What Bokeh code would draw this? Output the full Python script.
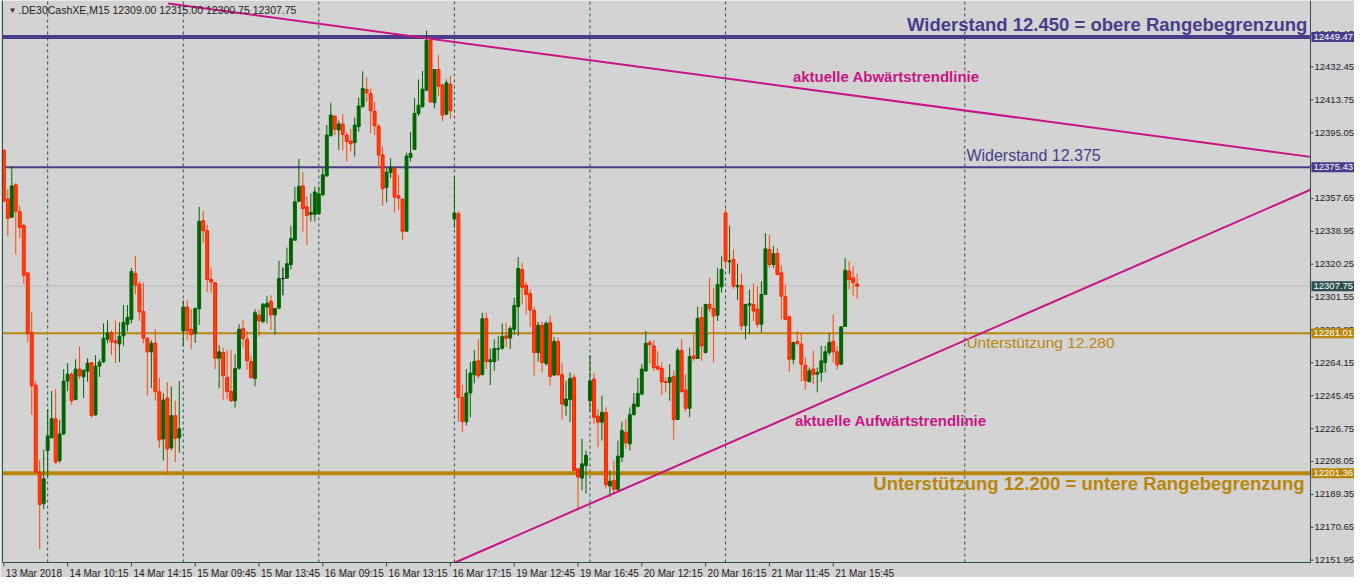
from bokeh.plotting import figure
from bokeh.models import Range1d, Label, ColumnDataSource
from bokeh.core.properties import value
from bokeh.embed import file_html
from bokeh.resources import INLINE

# ---------------- data (DE30 CashXE, M15) ----------------
opens = [12385.2, 12357.3, 12346.9, 12365.4, 12350.1, 12342.2, 12315.3, 12281.3, 12251.5, 12202.0,
         12184.1, 12214.3, 12221.5, 12232.3, 12208.6, 12223.7, 12253.8, 12257.7, 12243.2, 12260.6,
         12256.2, 12259.4, 12264.3, 12234.5, 12262.3, 12264.7, 12277.6, 12281.2, 12276.6, 12274.9,
         12279.5, 12286.1, 12288.9, 12315.0, 12308.7, 12293.3, 12278.2, 12270.4, 12275.3, 12247.7,
         12220.9, 12244.1, 12215.8, 12234.1, 12221.5, 12282.3, 12295.9, 12283.2, 12280.8, 12294.9,
         12345.0, 12339.3, 12311.6, 12309.7, 12266.8, 12270.0, 12255.9, 12247.9, 12242.6, 12261.1,
         12283.6, 12277.6, 12264.9, 12255.3, 12291.2, 12287.6, 12295.9, 12299.1, 12291.4, 12295.3,
         12312.1, 12312.3, 12320.1, 12333.9, 12356.0, 12364.8, 12352.8, 12348.6, 12348.6, 12349.0,
         12359.8, 12370.5, 12393.4, 12404.5, 12396.6, 12400.0, 12393.7, 12390.3, 12389.4, 12398.5,
         12409.8, 12419.6, 12417.3, 12407.2, 12398.8, 12382.4, 12363.9, 12372.4, 12374.9, 12359.2,
         12357.3, 12339.0, 12381.1, 12385.6, 12406.0, 12409.8, 12419.2, 12447.6, 12412.1, 12431.0,
         12422.1, 12405.6, 12422.6, 12346.0, 12349.0, 12244.5, 12230.7, 12247.0, 12257.4, 12265.3,
         12257.4, 12289.3, 12264.7, 12264.9, 12271.9, 12272.5, 12279.5, 12278.3, 12283.2, 12296.1,
         12317.2, 12308.2, 12303.5, 12294.0, 12270.0, 12285.5, 12263.8, 12287.0, 12257.2, 12276.3,
         12257.4, 12239.8, 12243.2, 12255.9, 12203.9, 12198.6, 12205.8, 12242.6, 12254.9, 12233.8,
         12230.4, 12236.0, 12194.1, 12197.3, 12192.2, 12210.5, 12224.7, 12218.1, 12234.7, 12239.4,
         12246.4, 12259.6, 12275.7, 12273.8, 12262.1, 12261.0, 12253.4, 12253.0, 12256.4, 12231.9,
         12271.3, 12248.7, 12238.3, 12268.1, 12266.6, 12289.9, 12270.0, 12297.4, 12295.0, 12291.2,
         12307.4, 12349.4, 12321.6, 12322.9, 12307.4, 12308.2, 12285.5, 12297.0, 12297.4, 12294.6,
         12286.1, 12303.1, 12328.6, 12320.1, 12326.3, 12315.3, 12301.8, 12290.4, 12266.2, 12276.3,
         12274.8, 12262.8, 12253.4, 12260.6, 12257.7, 12258.7, 12264.3, 12270.0, 12276.3, 12270.4,
         12263.4, 12284.8, 12316.3, 12312.5, 12309.0]
highs = [12385.2, 12363.0, 12376.2, 12366.3, 12353.5, 12343.3, 12315.3, 12292.9, 12253.8, 12209.0,
         12214.7, 12237.9, 12248.1, 12249.2, 12231.7, 12260.6, 12264.0, 12258.7, 12266.2, 12273.6,
         12260.0, 12266.8, 12264.3, 12268.5, 12266.2, 12286.6, 12288.3, 12282.7, 12288.3, 12287.2,
         12297.0, 12297.0, 12318.0, 12324.8, 12310.6, 12309.7, 12278.2, 12277.0, 12283.2, 12255.5,
         12247.0, 12253.2, 12250.6, 12242.6, 12253.8, 12299.7, 12299.7, 12294.6, 12295.5, 12352.9,
         12350.7, 12342.7, 12318.4, 12309.7, 12274.2, 12272.9, 12271.5, 12271.5, 12269.1, 12286.1,
         12288.3, 12282.3, 12268.1, 12294.6, 12294.6, 12298.3, 12302.1, 12302.5, 12295.1, 12322.2,
         12318.4, 12329.7, 12342.2, 12364.3, 12380.1, 12372.8, 12358.8, 12360.5, 12364.3, 12364.5,
         12374.8, 12399.4, 12412.1, 12404.5, 12401.9, 12405.6, 12395.1, 12397.3, 12403.6, 12415.1,
         12430.0, 12426.8, 12420.2, 12412.6, 12400.0, 12387.1, 12374.9, 12380.5, 12374.9, 12371.1,
         12357.3, 12383.7, 12395.4, 12414.7, 12425.3, 12430.2, 12453.2, 12449.8, 12431.0, 12439.1,
         12423.0, 12425.3, 12427.2, 12370.1, 12350.3, 12251.5, 12260.6, 12264.7, 12271.3, 12277.6,
         12292.7, 12292.7, 12272.3, 12277.6, 12279.5, 12286.6, 12287.0, 12285.1, 12301.2, 12324.4,
         12321.0, 12310.2, 12305.9, 12296.1, 12287.4, 12287.4, 12288.0, 12291.2, 12278.9, 12278.5,
         12264.3, 12254.0, 12258.7, 12257.7, 12203.9, 12220.9, 12214.3, 12268.5, 12258.3, 12237.9,
         12245.5, 12238.9, 12203.0, 12208.6, 12219.9, 12230.7, 12232.2, 12238.9, 12247.0, 12255.5,
         12263.4, 12282.3, 12277.2, 12277.2, 12271.0, 12264.3, 12255.9, 12263.4, 12260.0, 12272.8,
         12277.6, 12257.7, 12272.9, 12280.4, 12296.1, 12296.1, 12297.4, 12312.5, 12306.8, 12318.2,
         12324.8, 12351.2, 12342.2, 12328.6, 12320.6, 12315.0, 12297.4, 12305.9, 12309.3, 12307.8,
         12310.6, 12338.0, 12337.1, 12330.5, 12329.5, 12319.5, 12308.7, 12290.4, 12276.1, 12282.3,
         12281.4, 12267.2, 12261.5, 12271.0, 12261.5, 12273.8, 12273.8, 12281.0, 12291.8, 12273.8,
         12285.1, 12323.8, 12321.9, 12319.1, 12315.0]
lows = [12355.4, 12336.1, 12346.9, 12325.7, 12334.8, 12309.3, 12276.1, 12234.5, 12202.0, 12158.2,
        12180.9, 12199.2, 12221.5, 12206.7, 12207.3, 12223.2, 12248.1, 12240.4, 12243.2, 12254.9,
        12244.1, 12253.4, 12233.0, 12234.1, 12256.2, 12264.0, 12275.3, 12268.5, 12264.0, 12264.5,
        12273.8, 12282.1, 12286.6, 12303.1, 12288.0, 12275.3, 12245.5, 12250.0, 12242.6, 12215.8,
        12208.6, 12201.1, 12214.3, 12207.7, 12213.0, 12273.8, 12277.0, 12271.9, 12275.5, 12285.7,
        12332.4, 12304.4, 12304.0, 12260.6, 12249.6, 12243.2, 12243.6, 12241.7, 12238.7, 12260.2,
        12272.9, 12260.2, 12255.3, 12250.8, 12279.1, 12286.6, 12286.6, 12282.9, 12280.2, 12294.6,
        12302.5, 12312.3, 12317.2, 12333.9, 12356.0, 12338.8, 12331.0, 12344.6, 12344.6, 12348.4,
        12358.8, 12370.1, 12392.8, 12393.6, 12385.2, 12384.9, 12378.6, 12384.3, 12381.5, 12395.6,
        12409.4, 12412.6, 12394.7, 12393.7, 12374.9, 12353.5, 12355.4, 12369.2, 12349.7, 12351.2,
        12334.2, 12339.0, 12378.6, 12385.2, 12404.5, 12409.4, 12419.2, 12412.1, 12408.9, 12415.8,
        12401.7, 12405.1, 12402.8, 12340.9, 12230.7, 12224.7, 12228.5, 12233.2, 12252.5, 12255.3,
        12257.4, 12260.6, 12251.5, 12259.6, 12265.3, 12271.5, 12273.2, 12271.9, 12280.0, 12279.5,
        12297.4, 12291.7, 12284.6, 12256.8, 12264.7, 12258.7, 12262.5, 12251.1, 12256.8, 12256.8,
        12231.9, 12234.1, 12230.4, 12200.5, 12181.2, 12191.6, 12189.7, 12236.4, 12229.4, 12216.2,
        12220.0, 12192.6, 12187.9, 12189.7, 12190.7, 12207.7, 12215.2, 12214.3, 12234.1, 12238.9,
        12245.5, 12259.1, 12263.8, 12259.6, 12259.6, 12245.8, 12247.3, 12242.6, 12220.5, 12231.9,
        12247.7, 12236.4, 12233.2, 12265.3, 12266.6, 12265.3, 12269.6, 12293.0, 12264.4, 12288.0,
        12304.0, 12318.0, 12314.8, 12306.3, 12299.9, 12282.3, 12277.6, 12280.4, 12288.0, 12284.2,
        12281.4, 12303.1, 12318.2, 12318.2, 12313.8, 12288.9, 12288.5, 12259.1, 12263.4, 12274.3,
        12253.4, 12248.9, 12253.4, 12252.1, 12247.4, 12253.4, 12258.7, 12268.5, 12264.3, 12260.2,
        12262.8, 12284.8, 12305.9, 12302.1, 12300.75]
closes = [12356.3, 12346.3, 12364.8, 12350.3, 12341.2, 12314.0, 12280.8, 12251.1, 12202.0, 12183.7,
          12198.2, 12222.6, 12232.3, 12207.7, 12223.7, 12253.8, 12257.7, 12242.6, 12260.6, 12256.8,
          12260.0, 12264.0, 12234.1, 12262.3, 12264.5, 12278.2, 12281.2, 12276.1, 12275.5, 12279.3,
          12287.2, 12290.0, 12316.1, 12308.4, 12293.1, 12278.2, 12270.4, 12275.3, 12247.7, 12220.3,
          12243.0, 12215.2, 12234.1, 12221.3, 12226.6, 12295.9, 12282.3, 12280.2, 12295.1, 12344.6,
          12339.3, 12311.6, 12310.1, 12266.8, 12270.4, 12256.8, 12247.9, 12242.6, 12260.9, 12283.2,
          12278.0, 12265.3, 12255.7, 12292.7, 12288.0, 12297.4, 12298.0, 12291.4, 12295.1, 12312.1,
          12312.1, 12320.5, 12334.8, 12355.8, 12364.5, 12352.0, 12348.0, 12349.7, 12361.3, 12360.3,
          12371.1, 12393.7, 12405.1, 12397.0, 12400.0, 12394.1, 12390.0, 12388.8, 12399.4, 12410.2,
          12420.2, 12417.7, 12407.5, 12399.0, 12382.4, 12363.3, 12372.6, 12375.4, 12358.4, 12357.9,
          12339.0, 12381.8, 12383.3, 12406.0, 12410.7, 12419.8, 12447.6, 12412.6, 12431.0, 12421.5,
          12405.1, 12423.4, 12407.5, 12349.4, 12244.5, 12230.7, 12247.0, 12258.3, 12264.9, 12256.8,
          12289.3, 12264.9, 12265.9, 12272.3, 12272.3, 12279.1, 12278.1, 12283.6, 12296.8, 12317.8,
          12307.2, 12303.1, 12294.2, 12270.0, 12285.5, 12264.3, 12286.6, 12256.4, 12276.3, 12257.4,
          12240.7, 12243.6, 12255.3, 12203.0, 12199.2, 12206.7, 12211.5, 12253.9, 12233.2, 12230.4,
          12236.0, 12194.8, 12196.9, 12192.2, 12211.1, 12225.6, 12218.6, 12234.7, 12240.7, 12246.8,
          12260.6, 12275.3, 12274.4, 12261.5, 12260.6, 12253.4, 12253.0, 12255.9, 12231.9, 12271.3,
          12247.7, 12238.3, 12267.8, 12266.6, 12289.5, 12273.8, 12297.4, 12295.0, 12290.8, 12308.7,
          12317.2, 12322.0, 12322.2, 12307.8, 12308.2, 12285.1, 12297.4, 12297.8, 12293.6, 12286.1,
          12303.1, 12329.0, 12320.1, 12326.3, 12314.4, 12302.1, 12288.9, 12266.2, 12275.7, 12275.1,
          12263.4, 12254.0, 12259.6, 12257.4, 12258.7, 12265.3, 12270.4, 12275.7, 12270.4, 12263.0,
          12284.6, 12316.8, 12311.6, 12309.7, 12307.75]

time_ticks = [0, 16, 32, 48, 64, 80, 96, 112, 128, 144, 160, 176, 192, 208]
time_labels = ["13 Mar 2018", "14 Mar 10:15", "14 Mar 14:15", "15 Mar 09:45", "15 Mar 13:45",
               "16 Mar 09:15", "16 Mar 13:15", "16 Mar 17:15", "19 Mar 12:45", "19 Mar 16:45",
               "20 Mar 12:15", "20 Mar 16:15", "21 Mar 11:45", "21 Mar 15:45"]
day_separators = [11, 45, 79, 113, 147, 181, 241]

price_ticks = [12151.95, 12170.65, 12189.35, 12208.05, 12226.75, 12245.45, 12264.15, 12282.85,
               12301.55, 12320.25, 12338.95, 12357.65, 12376.35, 12395.05, 12413.75, 12432.45, 12451.15]

resistance_main = 12449.47
resistance_2 = 12375.43
support_2 = 12281.01
support_main = 12201.36
last_price = 12307.75

down_trend_x = [41.2, 327.7]
down_trend_y = [12468.5, 12381.3]
up_trend_x = [113.2, 327.7]
up_trend_y = [12150.6, 12362.6]

header = ".DE30CashXE,M15  12309.00 12315.00 12300.75 12307.75"

# ---------------- layout ----------------
W, H = 1354, 577                 # canvas
CL, CR, CT, CB = 2, 1310, 2, 562 # chart area in canvas pixels (price axis at CR, time axis at CB)
X0, XA = -0.33, 327.7            # chart x extent (bar index); XA = price axis position
Y0, Y1 = 12150.6, 12469.1        # chart price extent (bottom, top)
DX = (XA - X0) / (CR - CL)
DY = (Y1 - Y0) / (CB - CT)
XR0, XR1 = X0 - CL * DX, XA + (W - CR) * DX
YR0, YR1 = Y0 - (H - CB) * DY, Y1 + CT * DY

FONT = "Liberation Sans"
AXIS_COL = "#2F4F4F"
BG = "#D3D3D3"

p = figure(width=W, height=H, x_range=Range1d(XR0, XR1), y_range=Range1d(YR0, YR1),
           output_backend="svg", toolbar_location=None, title=None,
           x_axis_location=None, y_axis_location=None,
           min_border_left=0, min_border_top=0, min_border_right=0, min_border_bottom=0)
p.background_fill_color = BG
p.border_fill_color = BG
p.outline_line_color = None
p.grid.visible = False

# day separators (dashed)
p.segment(x0=day_separators, y0=[Y0] * len(day_separators), x1=day_separators,
          y1=[YR1] * len(day_separators), line_color=AXIS_COL, line_dash="3 3", line_width=1)

# horizontal levels
levels = [last_price, resistance_main, resistance_2, support_2, support_main]
level_cols = ["#BEBEBE", "#483D8B", "#483D8B", "#B8860B", "#B8860B"]
level_w = [1, 4, 2, 2, 4]
p.segment(x0=[X0] * 5, y0=levels, x1=[XA] * 5, y1=levels, line_color=level_cols, line_width=level_w)

# candles
n = len(opens)
body_fill, body_line, wick_col, tops, bottoms = [], [], [], [], []
for o, c in zip(opens, closes):
    if c > o:
        body_fill.append("#006400"); body_line.append("#006400"); wick_col.append("#006400")
    elif c < o:
        body_fill.append("#FF4500"); body_line.append("#FF1A00"); wick_col.append("#FF4500")
    else:
        body_fill.append("#000000"); body_line.append("#000000"); wick_col.append("#000000")
    tops.append(max(o, c)); bottoms.append(min(o, c))

src = ColumnDataSource(dict(x=list(range(n)), h=highs, l=lows, top=tops, bottom=bottoms,
                            fill=body_fill, line=body_line, wick=wick_col))
p.segment(x0="x", y0="l", x1="x", y1="h", line_color="wick", line_width=1, source=src)
p.vbar(x="x", width=0.72, top="top", bottom="bottom", fill_color="fill", line_color="line",
       line_width=1, source=src)

# trend lines
p.line(down_trend_x, down_trend_y, line_color="#C71585", line_width=2)
p.line(up_trend_x, up_trend_y, line_color="#C71585", line_width=2)

# axes (drawn: left border, bottom line, price axis line)
p.segment(x0=[X0, X0, XA], y0=[Y0, Y0, Y0 - 1 * DY],
          x1=[X0, XA, XA], y1=[YR1, Y0, YR1], line_color=AXIS_COL, line_width=1)

# time axis ticks + labels
p.segment(x0=time_ticks, y0=[Y0] * len(time_ticks), x1=time_ticks,
          y1=[Y0 - 4 * DY] * len(time_ticks), line_color=AXIS_COL, line_width=1)
p.text(x=time_ticks, y=[Y0] * len(time_ticks), text=time_labels, x_offset=2, y_offset=5,
       text_font=value(FONT), text_font_size="10px", text_color="#222222",
       text_align="left", text_baseline="top")

# price axis ticks + labels
price_labels = ["%.2f" % v for v in price_ticks]
p.segment(x0=[XA] * len(price_ticks), y0=price_ticks, x1=[XA + 3 * DX] * len(price_ticks),
          y1=price_ticks, line_color=AXIS_COL, line_width=1)
p.text(x=[XA] * len(price_ticks), y=price_ticks, text=price_labels, x_offset=4,
       text_font=value(FONT), text_font_size="9.5px", text_color="#222222",
       text_align="left", text_baseline="middle")

# annotations
def add_text(x, y, text, color, size, bold=False, align="left"):
    p.add_layout(Label(x=x, y=y, text=text, text_color=color, text_font=FONT,
                       text_font_size=size, text_font_style="bold" if bold else "normal",
                       text_align=align, text_baseline="middle"))

add_text(326.9, 12456.6, "Widerstand 12.450 = obere Rangebegrenzung", "#483D8B", "18.5px", True, "right")
add_text(197.9, 12426.8, "aktuelle Abwärtstrendlinie", "#C71585", "15px", True)
add_text(241.4, 12382.0, "Widerstand 12.375", "#483D8B", "16px")
add_text(241.4, 12276.0, "Unterstützung 12.280", "#B8860B", "15.5px")
add_text(198.4, 12231.1, "aktuelle Aufwärtstrendlinie", "#C71585", "15px", True)
add_text(326.2, 12195.4, "Unterstützung 12.200 = untere Rangebegrenzung", "#B8860B", "18.5px", True, "right")

# header
add_text(1.2, 12464.6, "\u25bc", "#333333", "8px")
add_text(3.7, 12464.6, header, "#222222", "10.5px")

# price boxes on the price axis
for val, bg in [(resistance_main, "#483D8B"), (resistance_2, "#483D8B"), (last_price, "#2F4F4F"),
                (support_2, "#B8860B"), (support_main, "#B8860B")]:
    p.add_layout(Label(x=XA, y=val, text="%.2f" % val, text_color="white", text_font=FONT,
                       text_font_size="9.5px", text_align="left", text_baseline="middle",
                       x_offset=1, background_fill_color=bg, padding=2))

open("out.html", "w").write(file_html(p, INLINE))
